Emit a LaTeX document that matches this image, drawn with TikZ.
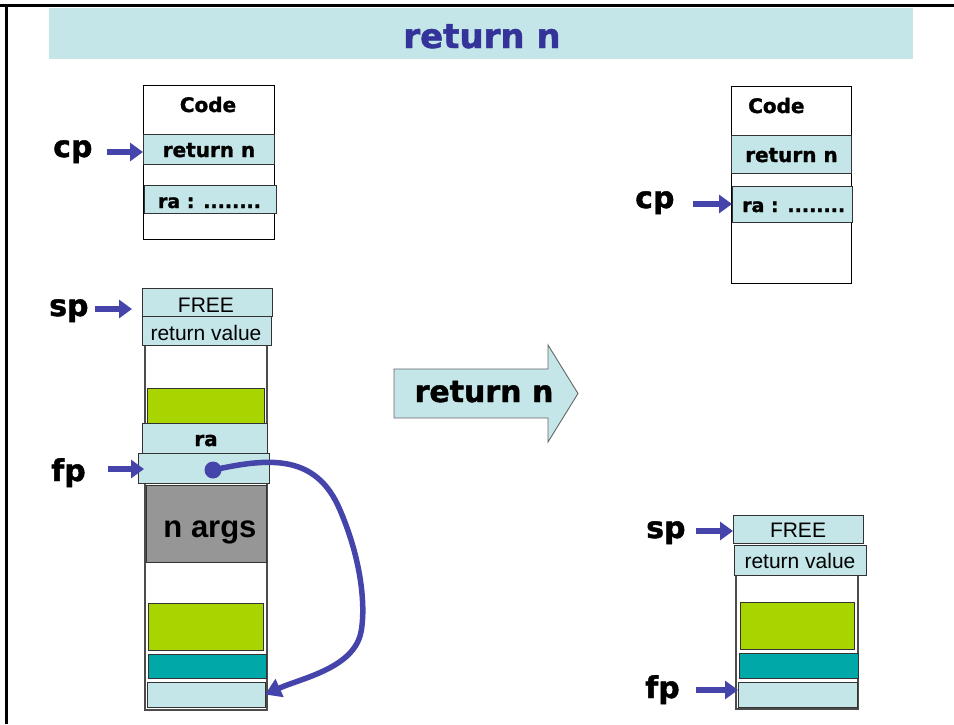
\documentclass[tikz,border=0pt]{standalone}
\usepackage{fontspec}
\setmainfont{Liberation Sans}
\newfontfamily\heavy[BoldFont={DejaVu Sans Bold},BoldFeatures={FakeBold=1.4}]{DejaVu Sans}
\usetikzlibrary{arrows.meta}

\definecolor{cellcyan}{RGB}{197,230,232}
\definecolor{limefill}{RGB}{168,212,0}
\definecolor{tealfill}{RGB}{0,168,168}
\definecolor{argsgray}{RGB}{150,150,150}
\definecolor{ptrblue}{RGB}{68,68,170}
\definecolor{titleblue}{RGB}{51,51,153}

\tikzset{
  blk/.style={inner sep=0pt, outer sep=0pt, anchor=north west},
  cell/.style={blk, draw=black!80, line width=0.8pt, fill=cellcyan},
  codebox/.style={blk, draw=black, line width=0.9pt, fill=white},
  column/.style={blk, draw=black!70, line width=1.2pt, fill=white},
  limebox/.style={blk, draw=black!80, line width=0.8pt, fill=limefill},
  tealbox/.style={blk, draw=black!80, line width=0.8pt, fill=tealfill},
  argsbox/.style={blk, draw=black!80, line width=0.8pt, fill=argsgray},
  txt/.style={inner sep=0pt, anchor=base},
  ltxt/.style={inner sep=0pt, anchor=base west},
  codetxt/.style={font=\heavy\bfseries\fontsize{20}{20}\selectfont},
  plaintxt/.style={font=\fontsize{21}{21}\selectfont},
  reglabel/.style={ltxt, font=\heavy\bfseries\fontsize{30}{30}\selectfont},
  ptr/.style={draw=ptrblue, line width=6pt, -{Triangle[length=13pt,width=18pt]}},
  link/.style={draw=ptrblue, line width=5.5pt, -{Triangle[length=16pt,width=19pt]}},
  bigarrow/.style={draw=black!60, line width=0.9pt, fill=cellcyan}
}

\begin{document}
\begin{tikzpicture}[x=1pt,y=-1pt]
\useasboundingbox (0,0) rectangle (954,724);

% page frame
\draw[line width=3pt] (0,5.5) -- (954,5.5);
\draw[line width=3pt] (6.5,5.5) -- (6.5,724);

% title band
\node[blk, fill=cellcyan, minimum width=864pt, minimum height=51pt] (band) at (49,8) {};
\node[txt, text=titleblue, font=\heavy\bfseries\fontsize{34}{34}\selectfont] (title) at (482,48) {return n};

% ---------- left: code segment ----------
\node[codebox, minimum width=131pt, minimum height=154pt] (codeL) at (143,85) {};
\node[cell, minimum width=131pt, minimum height=30pt] (retL) at (143,134) {};
\node[cell, minimum width=132pt, minimum height=28pt] (raL) at (144,185) {};
\node[txt, codetxt] (codeLt) at (208,112) {Code};
\node[txt, codetxt] (retLt) at (209,157) {return n};
\node[txt, codetxt, font=\heavy\bfseries\fontsize{19}{19}\selectfont] (raLt) at (209.5,208) {ra : ........};

\node[reglabel] (cpL) at (53,157) {cp};
\coordinate (cpLtail) at (107,152);
\draw[ptr] (cpLtail) -- (cpLtail -| retL.west);

% ---------- left: stack ----------
\node[column, minimum width=122pt, minimum height=365pt] (colL) at (145,345) {};
\node[cell, minimum width=130pt, minimum height=28pt] (freeL) at (142,288) {};
\node[cell, minimum width=129pt, minimum height=29pt] (rvL) at (142,316) {};
\node[txt, plaintxt] (freeLt) at (206,312) {FREE};
\node[txt, plaintxt] (rvLt) at (206,340) {return value};

\node[limebox, minimum width=117pt, minimum height=35pt] (limeL1) at (147,388) {};
\node[cell, minimum width=125pt, minimum height=30pt] (raStack) at (142,423) {};
\node[txt, codetxt] (raStackt) at (206,446) {ra};
\node[cell, minimum width=131pt, minimum height=30pt] (fpCell) at (138,453) {};
\node[argsbox, minimum width=120pt, minimum height=77pt] (args) at (146,485) {};
\node[txt, font=\bfseries\fontsize{31}{31}\selectfont] (argst) at (210,537) {n args};
\node[limebox, minimum width=115pt, minimum height=47pt] (limeL2) at (148,603) {};
\node[tealbox, minimum width=118pt, minimum height=24pt] (tealL) at (148,654) {};
\node[cell, minimum width=118pt, minimum height=25pt] (lowL) at (147,682) {};

\node[reglabel] (spL) at (49,316) {sp};
\coordinate (spLtail) at (95,309);
\draw[ptr, shorten >=10pt] (spLtail) -- (spLtail -| freeL.west);

\node[reglabel] (fpL) at (51,481) {fp};
\coordinate (fpLtail) at (108,469);
\draw[ptr, shorten >=-6pt] (fpLtail) -- (fpLtail -| fpCell.west);

% saved frame pointer link
\node[circle, fill=ptrblue, minimum size=17pt, inner sep=0pt] (dot) at (213,470) {};
\draw[link] (dot.center) .. controls (268,458) and (316,453) .. (340,510)
  .. controls (364,566) and (365,612) .. (361,632)
  .. controls (354,668) and (302,678) .. (lowL.east);

% ---------- transition arrow ----------
\filldraw[bigarrow] (394,369) -- (548,369) -- (548,345) -- (578,393.5)
  -- (548,442) -- (548,418) -- (394,418) -- cycle;
\node[txt, font=\heavy\bfseries\fontsize{30}{30}\selectfont] (arrowt) at (484,402) {return n};

% ---------- right: code segment ----------
\node[codebox, minimum width=120pt, minimum height=197pt] (codeR) at (731,86) {};
\node[cell, minimum width=120pt, minimum height=38pt] (retR) at (731,135) {};
\node[cell, minimum width=120pt, minimum height=36pt] (raR) at (732,186) {};
\node[ltxt, codetxt] (codeRt) at (748,113) {Code};
\node[ltxt, codetxt] (retRt) at (745,162) {return n};
\node[ltxt, font=\heavy\bfseries\fontsize{19}{19}\selectfont] (raRt) at (742,212) {ra : ........};

\node[reglabel] (cpR) at (635,208) {cp};
\coordinate (cpRtail) at (693,204);
\draw[ptr] (cpRtail) -- (cpRtail -| raR.west);

% ---------- right: stack ----------
\node[column, minimum width=122pt, minimum height=134pt] (colR) at (736,575) {};
\node[cell, minimum width=130pt, minimum height=28pt] (freeR) at (733,515) {};
\node[cell, minimum width=132pt, minimum height=30pt] (rvR) at (734,545) {};
\node[txt, plaintxt] (freeRt) at (798,537) {FREE};
\node[txt, plaintxt] (rvRt) at (800,568) {return value};
\node[limebox, minimum width=114pt, minimum height=47pt] (limeR) at (740,602) {};
\node[tealbox, minimum width=119pt, minimum height=25pt] (tealR) at (739,653) {};
\node[cell, minimum width=119pt, minimum height=25pt] (lowR) at (738,682) {};

\node[reglabel] (spR) at (646,538) {sp};
\coordinate (spRtail) at (696,531);
\draw[ptr] (spRtail) -- (spRtail -| freeR.west);

\node[reglabel] (fpR) at (645,698) {fp};
\coordinate (fpRtail) at (696,690);
\draw[ptr] (fpRtail) -- (fpRtail -| lowR.west);
\end{tikzpicture}
\end{document}
